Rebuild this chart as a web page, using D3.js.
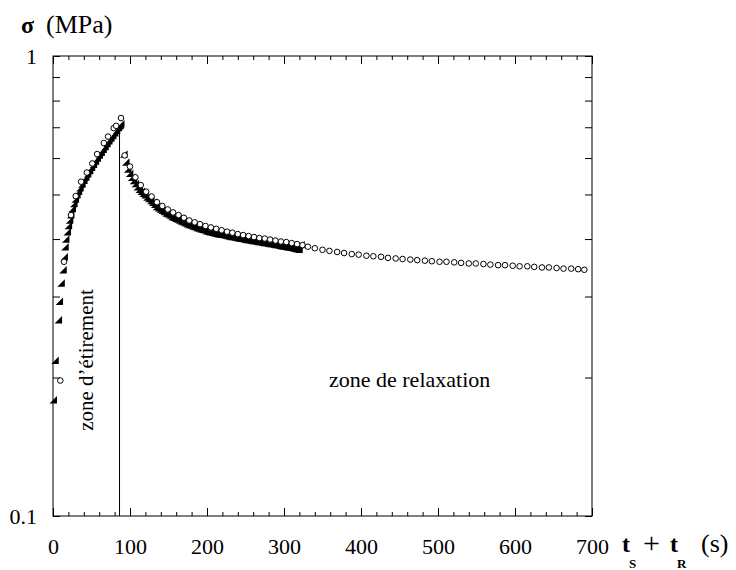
<!DOCTYPE html>
<html><head><meta charset="utf-8">
<script src="https://cdn.jsdelivr.net/npm/d3@7"></script>
<style>
body{margin:0;background:#fff;}
svg{display:block;font-family:"Liberation Serif","DejaVu Serif",serif;}
</style></head>
<body><svg id="c" width="736" height="570"></svg>
<script>
// ---- data ----
const xTickValues = [0,100,200,300,400,500,600,700];
const xMinorTicks = [20,40,60,80,120,140,160,180,220,240,260,280,320,340,360,380,420,440,460,480,520,540,560,580,620,640,660,680];
const yTickValues = [0.1,0.2,0.3,0.4,0.5,0.6,0.7,0.8,0.9,1];
const yTickLabels = {"0.1":"0.1","1":"1"};

// stretch zone, triangles
const triStretchT = [0.3,2.6,6.9,8.2,10.5,13,14.5,15.5,16.5,18.5,20,21.5,23,25,27,29,31,33,35,37.5,40,42.5,45,47.5,50,52.5,55,57.5,60,62.5,65,67.5,70,72.5,75,77.5,80,82.5,85,87,88];
const triStretchV = [0.179,0.218,0.267,0.293,0.321,0.343,0.366,0.385,0.400,0.415,0.428,0.440,0.452,0.466,0.478,0.489,0.499,0.508,0.517,0.527,0.537,0.546,0.555,0.564,0.573,0.582,0.591,0.600,0.609,0.618,0.627,0.636,0.645,0.654,0.663,0.672,0.681,0.690,0.699,0.706,0.712];
// relaxation zone, triangles
const triRelaxT = [92,94.5,97,99.5,102,104.5,107,109.5,112,114.5,117,119.5,122,124.5,127,129.5,132,134.5,137,139.5,142,144.5,147,149.5,152,154.5,157,159.5,162,164.5,167,169.5,172,174.5,177,179.5,182,184.5,187,189.5,192,194.5,197,199.5,202,204.5,207,209.5,212,214.5,217,219.5,222,224.5,227,229.5,232,234.5,237,239.5,242,244.5,247,249.5,252,254.5,257,259.5,262,264.5,267,269.5,272,274.5,277,279.5,282,284.5,287,289.5,292,294.5,297,299.5,302,304.5,307,309.5,312,314.5,317,319.5,322];
const triRelaxV = [0.612,0.588,0.568,0.556,0.545,0.536,0.528,0.520,0.513,0.508,0.503,0.499,0.494,0.490,0.485,0.481,0.476,0.471,0.468,0.465,0.462,0.459,0.456,0.454,0.451,0.448,0.446,0.444,0.442,0.440,0.438,0.436,0.434,0.432,0.430,0.429,0.427,0.426,0.424,0.423,0.421,0.420,0.419,0.417,0.416,0.415,0.414,0.413,0.412,0.411,0.410,0.410,0.409,0.408,0.407,0.406,0.405,0.405,0.404,0.403,0.402,0.402,0.401,0.400,0.399,0.399,0.398,0.397,0.397,0.396,0.395,0.395,0.394,0.393,0.393,0.392,0.391,0.391,0.390,0.389,0.389,0.388,0.387,0.387,0.386,0.385,0.385,0.384,0.383,0.382,0.381,0.380,0.389];
// stretch zone, circles
const circStretchT = [9.5,14.3,23.4,29.5,36.5,44,51,57.3,66,71.5,78.8,82,88.3];
const circStretchV = [0.197,0.357,0.451,0.496,0.533,0.558,0.584,0.612,0.647,0.668,0.697,0.705,0.733];
// relaxation zone, circles
const circRelaxT = [93,100,107,114,121,128,135,142,149,156,163,170,177,184,191,198,205,212,219,226,233,240,247,254,261,268,275,282,289,296,303,310,317,324,331,340,350,359,369,378,388,397,407,416,426,435,445,454,464,473,483,492,502,511,521,530,540,549,559,568,578,587,597,606,616,625,635,644,654,663,673,682,690];
const circRelaxV = [0.608,0.575,0.545,0.524,0.507,0.495,0.481,0.472,0.464,0.457,0.451,0.445,0.439,0.435,0.431,0.427,0.424,0.421,0.418,0.415,0.413,0.410,0.408,0.406,0.404,0.402,0.401,0.399,0.397,0.395,0.394,0.392,0.390,0.388,0.385,0.382,0.379,0.377,0.375,0.373,0.371,0.370,0.368,0.367,0.366,0.364,0.363,0.362,0.361,0.360,0.359,0.358,0.357,0.357,0.356,0.355,0.354,0.354,0.353,0.352,0.351,0.351,0.350,0.349,0.349,0.348,0.347,0.347,0.346,0.345,0.345,0.344,0.343];

const stretchEndT = 86.4;
const stretchEndV = 0.708;

// ---- drawing ----
const svg = d3.select("#c");
const L=53,R=592,T=56,B=516;
const x = d3.scaleLinear().domain([0,700]).range([L,R]);
const y = d3.scaleLog().domain([0.1,1]).range([B,T]);

const zip = (a,b)=>a.map((t,i)=>[t,b[i]]);
const triangles = zip(triStretchT,triStretchV).concat(zip(triRelaxT,triRelaxV));
const circles = zip(circStretchT,circStretchV).concat(zip(circRelaxT,circRelaxV));

// frame
svg.append("rect").attr("x",L).attr("y",T).attr("width",R-L).attr("height",B-T)
  .attr("fill","none").attr("stroke","#000").attr("stroke-width",1);

function styleAxis(g){ g.select(".domain").remove(); g.selectAll("line").attr("stroke","#000"); }

// bottom axis: major with labels
svg.append("g").attr("transform",`translate(0,${B})`)
  .call(d3.axisBottom(x).tickValues(xTickValues).tickSizeInner(-8).tickSizeOuter(0).tickPadding(22).tickFormat(d3.format("d")))
  .call(styleAxis)
  .call(g=>g.selectAll("text").attr("font-size",22).attr("fill","#000").attr("font-family","Liberation Serif, serif"));
svg.append("g").attr("transform",`translate(0,${B})`)
  .call(d3.axisBottom(x).tickValues(xMinorTicks).tickSizeInner(-4).tickSizeOuter(0).tickFormat(""))
  .call(styleAxis);
// top axis
svg.append("g").attr("transform",`translate(0,${T})`)
  .call(d3.axisTop(x).tickValues(xTickValues).tickSizeInner(-8).tickSizeOuter(0).tickFormat(""))
  .call(styleAxis);
svg.append("g").attr("transform",`translate(0,${T})`)
  .call(d3.axisTop(x).tickValues(xMinorTicks).tickSizeInner(-4).tickSizeOuter(0).tickFormat(""))
  .call(styleAxis);
// left axis
svg.append("g").attr("transform",`translate(${L},0)`)
  .call(d3.axisLeft(y).tickValues(yTickValues).tickSizeInner(-7).tickSizeOuter(0).tickPadding(16)
    .tickFormat(d=>yTickLabels[String(d)]||""))
  .call(styleAxis)
  .call(g=>g.selectAll("text").attr("font-size",22).attr("fill","#000").attr("font-family","Liberation Serif, serif"));
// right axis
svg.append("g").attr("transform",`translate(${R},0)`)
  .call(d3.axisRight(y).tickValues(yTickValues).tickSizeInner(-7).tickSizeOuter(0).tickFormat(""))
  .call(styleAxis);

// vertical separator line
svg.append("line").attr("x1",x(stretchEndT)).attr("x2",x(stretchEndT))
  .attr("y1",y(0.1)).attr("y2",y(stretchEndV)).attr("stroke","#000").attr("stroke-width",1);

// triangles (filled right triangles)
const s=7.5;
svg.append("g").selectAll("path").data(triangles).join("path")
  .attr("transform",d=>`translate(${x(d[0])},${y(d[1])})`)
  .attr("d",`M${s/2},${-s/2}L${s/2},${s/2}L${-s/2},${s/2}Z`)
  .attr("fill","#000");
// circles
svg.append("g").selectAll("circle").data(circles).join("circle")
  .attr("cx",d=>x(d[0])).attr("cy",d=>y(d[1])).attr("r",2.8)
  .attr("fill","#fff").attr("stroke","#000").attr("stroke-width",1);

// annotations
svg.append("text").attr("transform",`translate(93,360) rotate(-90)`)
  .attr("text-anchor","middle").attr("font-size",21).text("zone d’étirement");
svg.append("text").attr("x",329).attr("y",387).attr("font-size",22).text("zone de relaxation");

// y title
const yt = svg.append("text").attr("x",21).attr("y",33).attr("font-size",26);
yt.append("tspan").attr("font-weight","bold").attr("font-size",24).text("σ");
yt.append("tspan").attr("x",46).text("(MPa)");

// x title
const xt = svg.append("g").attr("font-size",24);
xt.append("text").attr("x",622).attr("y",552).attr("font-weight","bold").text("t");
xt.append("text").attr("x",629).attr("y",568).attr("font-weight","bold").attr("font-size",13).text("S");
xt.append("text").attr("x",643).attr("y",553).attr("font-size",30).text("+");
xt.append("text").attr("x",670).attr("y",552).attr("font-weight","bold").text("t");
xt.append("text").attr("x",677).attr("y",568).attr("font-weight","bold").attr("font-size",13).text("R");
xt.append("text").attr("x",701).attr("y",552).attr("font-size",26).text("(s)");
</script></body></html>
